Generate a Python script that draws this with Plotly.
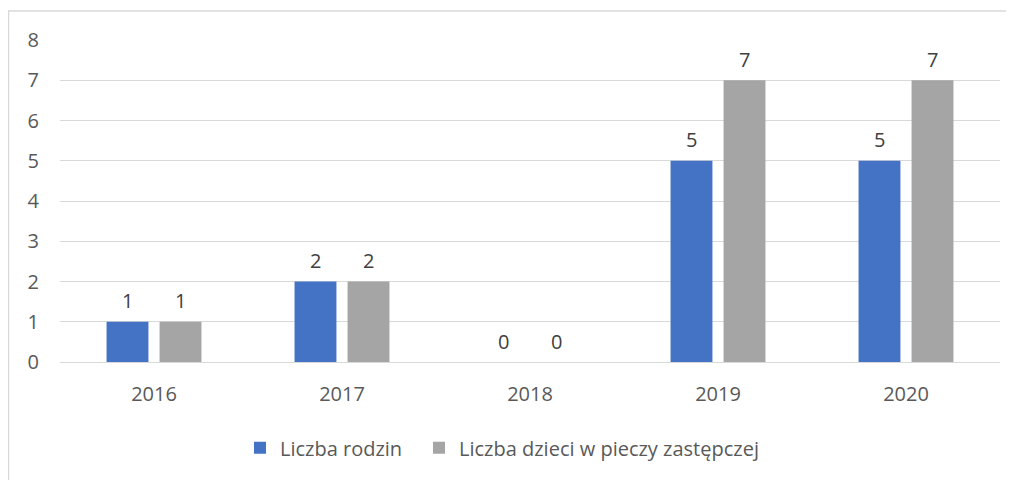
import plotly.graph_objects as go

years = ["2016", "2017", "2018", "2019", "2020"]
rodziny = [1, 2, 0, 5, 5]
dzieci = [1, 2, 0, 7, 7]
series_names = ["Liczba rodzin", "Liczba dzieci w pieczy zastępczej"]
y_ticks = [0, 1, 2, 3, 4, 5, 6, 7, 8]

# page has an 8px body margin; compensate so the chart lands where the reference has it
OFF = 8
W, H = 1014 - OFF, 480 - OFF
ML, MT = 60 - OFF, 39.5 - OFF
MR = W - (1000 - OFF)     # plot right edge at page x = 1000
MB = H - (362 - OFF)      # zero line at page y = 362
FONT = "Open Sans"
TXT = "#595959"
LBL = "#404040"
FS = 20

pw = W - ML - MR
ph = H - MT - MB

fig = go.Figure()
colors = ["#4472C4", "#A5A5A5"]
series = [rodziny, dzieci]
legends = ["legend", "legend2"]
for name, vals, col, lg in zip(series_names, series, colors, legends):
    fig.add_trace(go.Bar(x=years, y=vals, name=name, marker_color=col,
                         marker_line_width=0, cliponaxis=False, legend=lg))

# data labels above each bar (x given as category index)
for i, vals in enumerate(series):
    for j, v in enumerate(vals):
        fig.add_annotation(x=j, y=v, text=str(v), showarrow=False,
                           xshift=(i - 0.5) * 53, yshift=21, yanchor="middle",
                           font=dict(size=FS, color=LBL, family=FONT))

fig.add_shape(type="rect", xref="paper", yref="paper",
              x0=(0.5 - ML) / pw, x1=(1040 - ML) / pw,
              y0=1 - (500 - MT) / ph, y1=1 + (MT - 2.5) / ph,
              line=dict(color="#D9D9D9", width=1.5), fillcolor="rgba(0,0,0,0)", layer="below")

leg_y = -(440 - (H - MB)) / ph
def px(x_page):
    return (x_page - OFF - ML) / pw

leg_common = dict(orientation="h", xanchor="left", y=leg_y, yanchor="middle",
                  font=dict(size=FS, color=TXT, family=FONT), bgcolor="rgba(0,0,0,0)")

fig.update_layout(
    width=W, height=H,
    margin=dict(l=ML, r=MR, t=MT, b=MB, pad=0),
    paper_bgcolor="white", plot_bgcolor="white",
    font=dict(family=FONT, size=FS, color=TXT),
    barmode="group", bargap=0.436, bargroupgap=0.21,
    showlegend=True,
    legend=dict(x=px(240), **leg_common),
    legend2=dict(x=px(419), **leg_common),
    xaxis=dict(type="category", showgrid=False, showline=False, ticks="",
               tickfont=dict(size=FS, color=TXT), ticklabelstandoff=18),
    yaxis=dict(range=[0, 8], tickvals=y_ticks, showgrid=True, gridcolor="#D9D9D9", gridwidth=1,
               zeroline=True, zerolinecolor="#D9D9D9", zerolinewidth=1, showline=False,
               ticks="", tickfont=dict(size=FS, color=TXT), ticklabelstandoff=20),
)

fig.write_html("out.html")
